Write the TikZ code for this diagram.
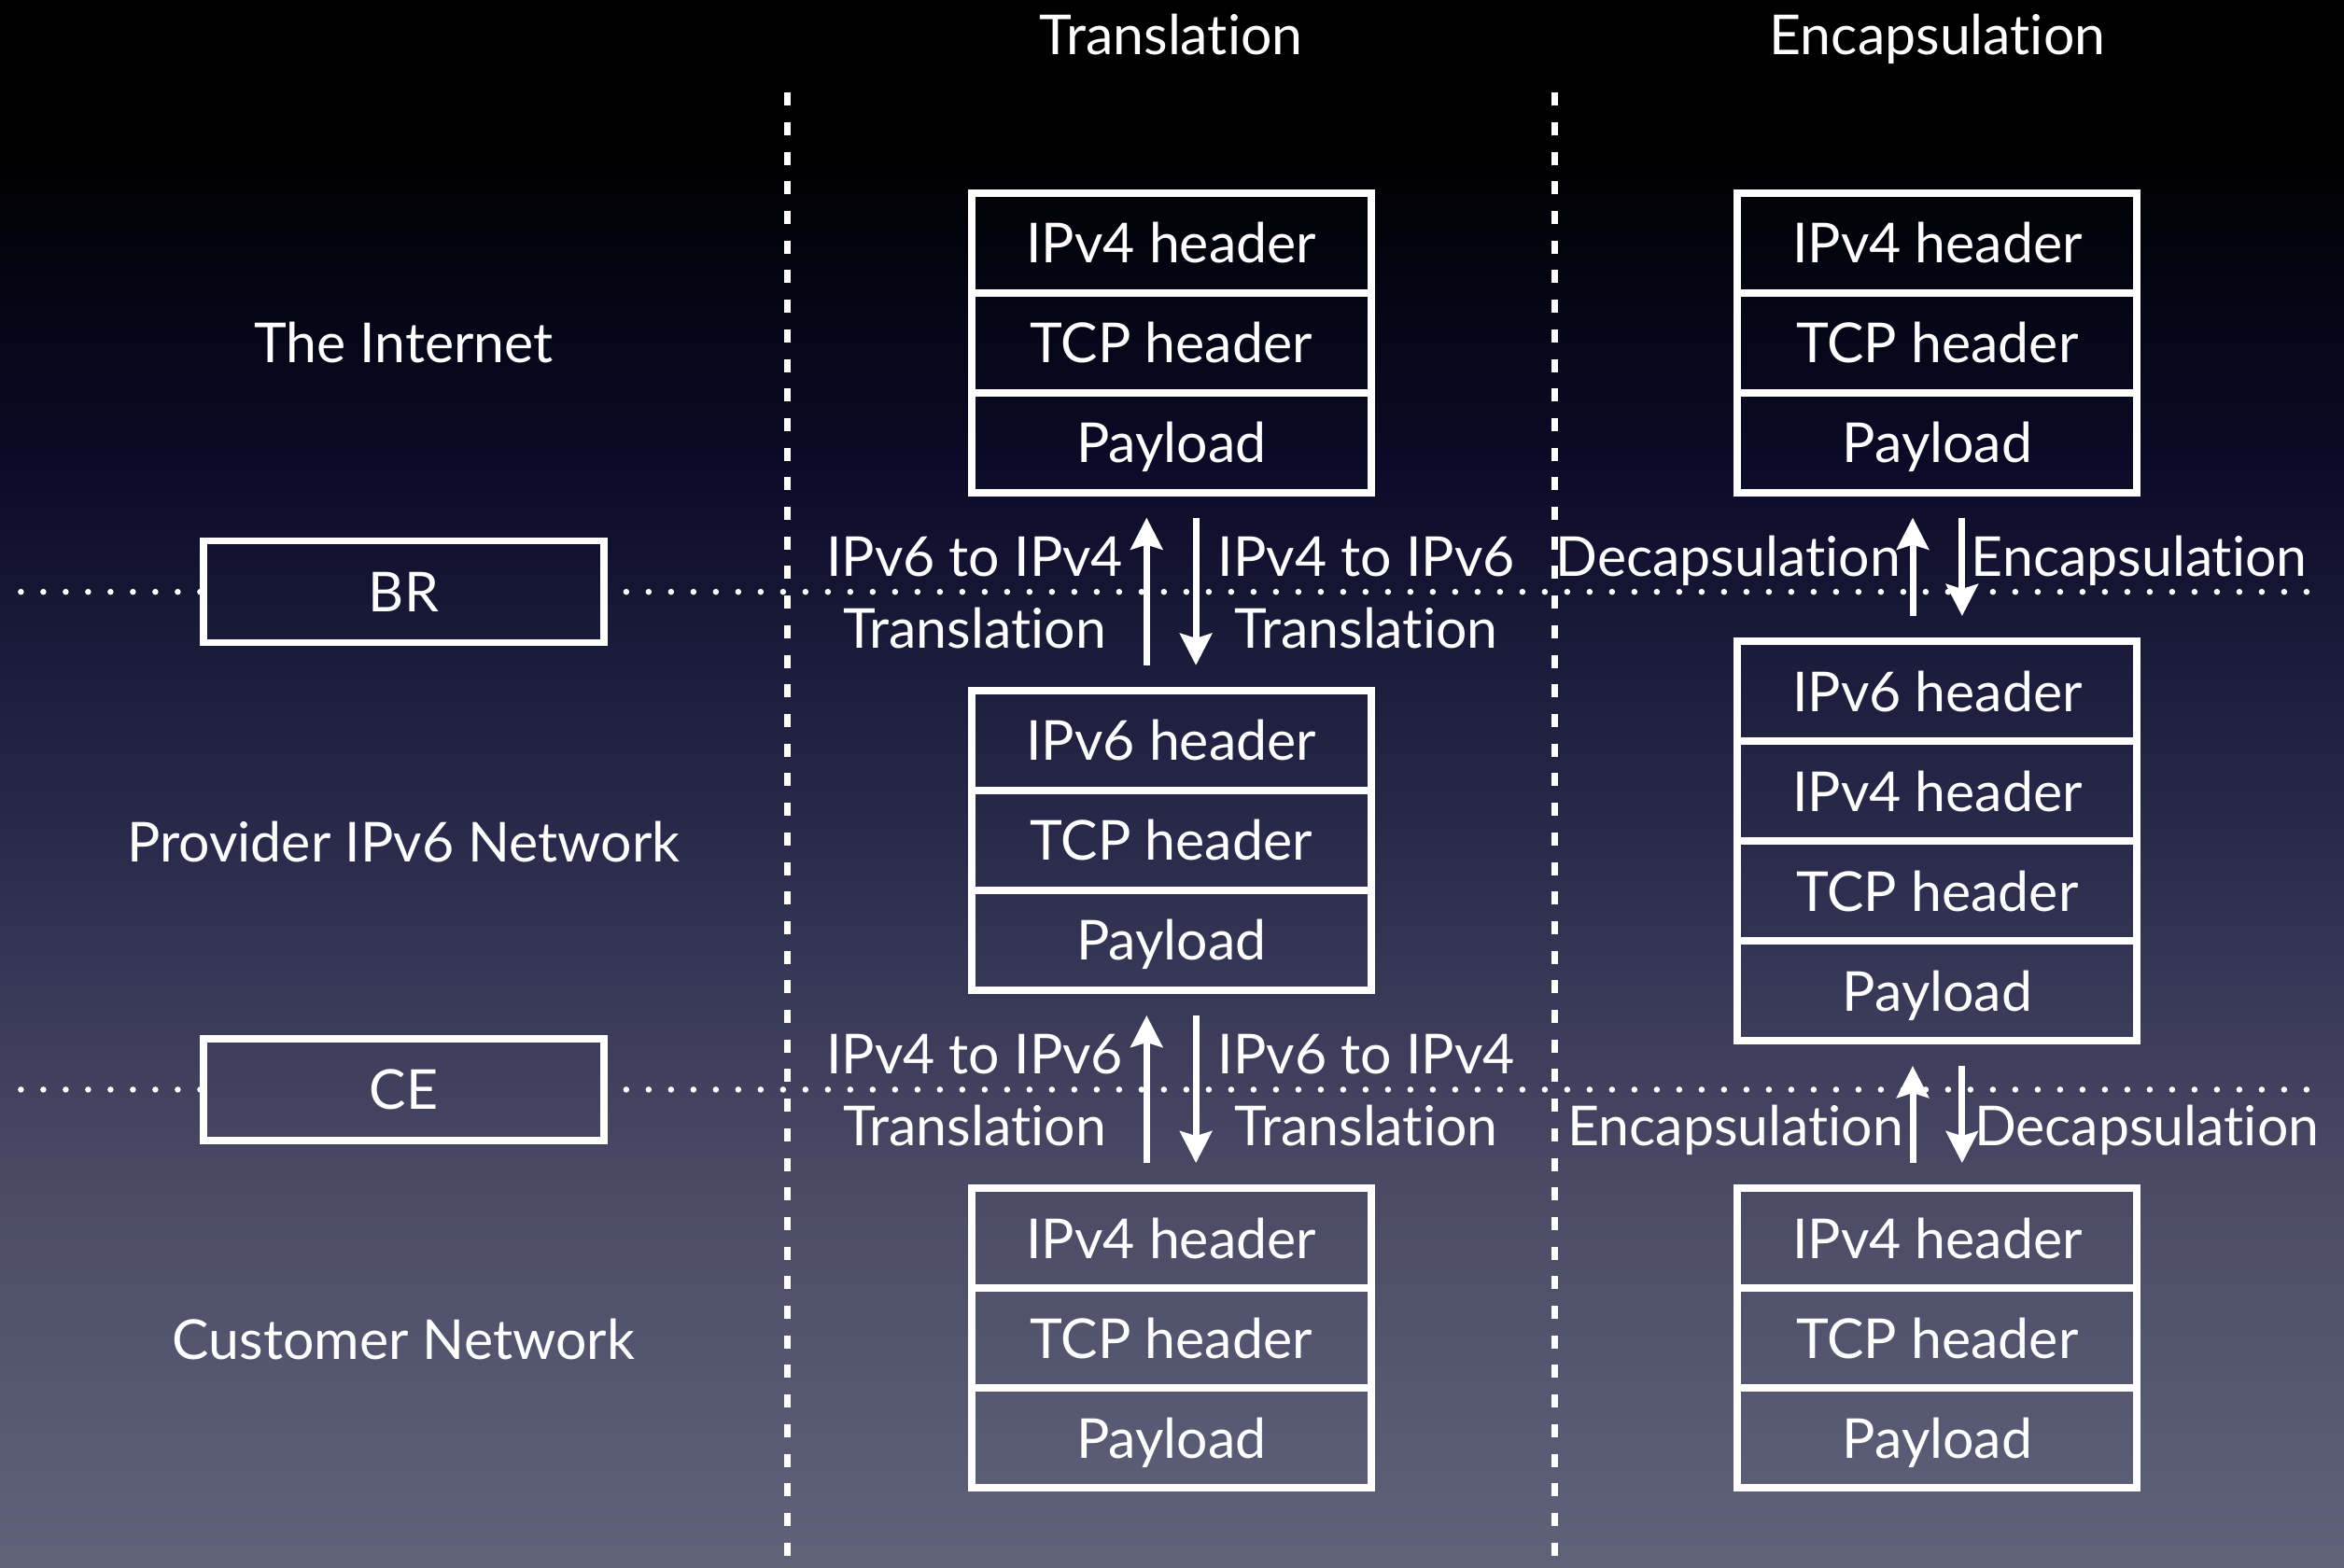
\documentclass[tikz,border=0pt]{standalone}
\usepackage{fontspec}
\setmainfont{Lato}[Ligatures=NoCommon]
\usetikzlibrary{arrows.meta,calc}
\definecolor{bgA}{RGB}{96,98,122}
\definecolor{bgB}{RGB}{75,75,102}
\definecolor{bgC}{RGB}{40,40,75}
\definecolor{bgD}{RGB}{10,10,38}
\definecolor{bgE}{RGB}{3,3,12}
\pgfdeclareverticalshading{bgshade}{100bp}{color(0bp)=(bgA); color(25bp)=(bgA); color(36.9bp)=(bgB); color(48.8bp)=(bgC); color(60.7bp)=(bgD); color(67.6bp)=(bgE); color(70.5bp)=(black); color(100bp)=(black)}
\begin{document}
\begin{tikzpicture}[x=1.6014pt, y=-1.6014pt,
  txt/.style={text=white, font=\fontsize{59}{72}\selectfont, inner sep=0pt, text height=43pt, text depth=0pt},
  cell/.style={txt, draw=white, line width=8pt, outer sep=0pt, minimum width=428pt, minimum height=107pt, anchor=north},
  router/.style={txt, draw=white, line width=7.5pt, outer sep=0pt, minimum width=429pt, minimum height=109pt},
  arr/.style={white, line width=7pt, -{Stealth[length=34pt, width=34pt, inset=5pt]}, shorten <=27pt, shorten >=27pt},
  vdash/.style={white, line width=7pt, dash pattern=on 14pt off 17.7pt},
  hdot/.style={white, line width=6.5pt, line cap=round, dash pattern=on 0pt off 24pt}]
\useasboundingbox (0,0) rectangle (1568,1049);
\shade[shading=bgshade] (0,0) rectangle (1568,1049);

% column separators
\coordinate (d1t) at (527,62); \coordinate (d1b) at (527,1049);
\coordinate (d2t) at (1040,62); \coordinate (d2b) at (1040,1049);
\draw[vdash] (d1t) -- (d1b);
\draw[vdash] (d2t) -- (d2b);

% headers
\node[txt] (hT) at (783.5,23) {Translation};
\node[txt] (hE) at (1296,23) {Encapsulation};

% left labels and routers
\node[txt] (inet) at (270,229) {The Internet};
\node[txt] (prov) at (270,563) {Provider IPv6 Network};
\node[txt] (cust) at (270,896) {Customer Network};
\node[router] (BR) at (270,396) {BR};
\node[router] (CE) at (270,729) {CE};

% dotted borders
\coordinate (l1s) at (14,396); \coordinate (l1e) at (1545,396);
\coordinate (l2s) at (14,729); \coordinate (l2e) at (1545,729);
\draw[hdot] (l1s) -- (BR.west);
\draw[hdot] (BR.east) -- (l1e);
\draw[hdot] (l2s) -- (CE.west);
\draw[hdot] (CE.east) -- (l2e);

% translation stacks
\node[cell] (t1a) at (783.5,129) {IPv4 header};
\node[cell] (t1b) at (t1a.south) {TCP header};
\node[cell] (t1c) at (t1b.south) {Payload};
\node[cell] (t2a) at (783.5,462) {IPv6 header};
\node[cell] (t2b) at (t2a.south) {TCP header};
\node[cell] (t2c) at (t2b.south) {Payload};
\node[cell] (t3a) at (783.5,795) {IPv4 header};
\node[cell] (t3b) at (t3a.south) {TCP header};
\node[cell] (t3c) at (t3b.south) {Payload};

% encapsulation stacks
\node[cell] (e1a) at (1296,129) {IPv4 header};
\node[cell] (e1b) at (e1a.south) {TCP header};
\node[cell] (e1c) at (e1b.south) {Payload};
\node[cell] (e2a) at (1296,429) {IPv6 header};
\node[cell] (e2b) at (e2a.south) {IPv4 header};
\node[cell] (e2c) at (e2b.south) {TCP header};
\node[cell] (e2d) at (e2c.south) {Payload};
\node[cell] (e3a) at (1296,795) {IPv4 header};
\node[cell] (e3b) at (e3a.south) {TCP header};
\node[cell] (e3c) at (e3b.south) {Payload};

% arrows
\draw[arr] ($(t2a.north)+(-16.5,0)$) -- ($(t1c.south)+(-16.5,0)$);
\draw[arr] ($(t1c.south)+(16.5,0)$) -- ($(t2a.north)+(16.5,0)$);
\draw[arr] ($(t3a.north)+(-16.5,0)$) -- ($(t2c.south)+(-16.5,0)$);
\draw[arr] ($(t2c.south)+(16.5,0)$) -- ($(t3a.north)+(16.5,0)$);
\draw[arr] ($(e2a.north)+(-16.5,0)$) -- ($(e1c.south)+(-16.5,0)$);
\draw[arr] ($(e1c.south)+(16.5,0)$) -- ($(e2a.north)+(16.5,0)$);
\draw[arr] ($(e3a.north)+(-16.5,0)$) -- ($(e2d.south)+(-16.5,0)$);
\draw[arr] ($(e2d.south)+(16.5,0)$) -- ($(e3a.north)+(16.5,0)$);

% arrow labels
\node[txt] (lt1a) at (652,372) {IPv6 to IPv4};
\node[txt] (lt1b) at (652,420) {Translation};
\node[txt] (lt2a) at (914,372) {IPv4 to IPv6};
\node[txt] (lt2b) at (914,420) {Translation};
\node[txt] (le1a) at (1156,372) {Decapsulation};
\node[txt] (le1b) at (1431,372) {Encapsulation};
\node[txt] (lt3a) at (652,705) {IPv4 to IPv6};
\node[txt] (lt3b) at (652,753) {Translation};
\node[txt] (lt4a) at (914,705) {IPv6 to IPv4};
\node[txt] (lt4b) at (914,753) {Translation};
\node[txt] (le2a) at (1161,753) {Encapsulation};
\node[txt] (le2b) at (1436,753) {Decapsulation};
\end{tikzpicture}
\end{document}
